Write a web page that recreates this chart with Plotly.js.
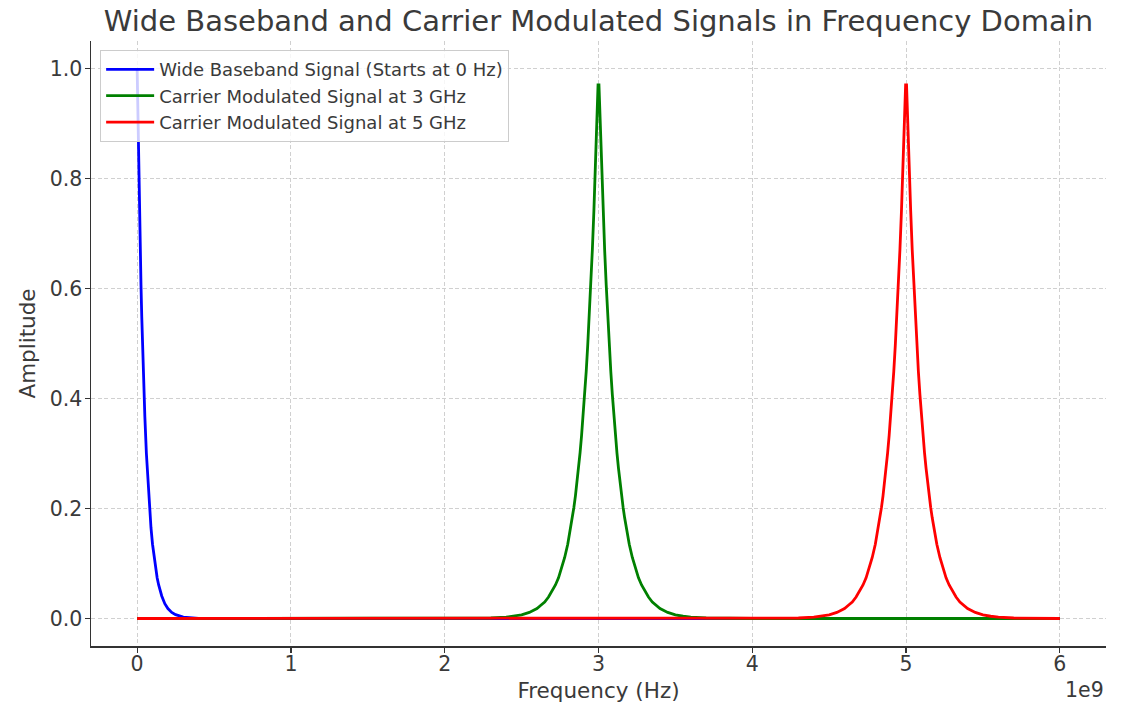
<!DOCTYPE html>
<html>
<head>
<meta charset="utf-8">
<script src="https://cdn.plot.ly/plotly-3.0.1.min.js"></script>
<style>html,body{margin:0;padding:0;background:#fff;}#chart{width:1127px;height:703px;}</style>
</head>
<body>
<div id="chart"></div>
<script>
// Values (frequency in GHz, amplitude unitless)
const seriesNames = [
  "Wide Baseband Signal (Starts at 0 Hz)",
  "Carrier Modulated Signal at 3 GHz",
  "Carrier Modulated Signal at 5 GHz"
];

const blueFreqGHz = [0, 0.005, 0.01, 0.015, 0.02, 0.025, 0.03, 0.035, 0.04, 0.045, 0.05, 0.06, 0.07, 0.08, 0.09, 0.10, 0.11, 0.12, 0.13, 0.14, 0.16, 0.18, 0.2, 0.225, 0.25, 0.3, 0.35, 0.4, 0.5, 6.0];
const blueAmp     = [1.0, 0.905, 0.819, 0.741, 0.670, 0.607, 0.549, 0.497, 0.449, 0.407, 0.368, 0.301, 0.247, 0.202, 0.165, 0.135, 0.111, 0.091, 0.074, 0.061, 0.041, 0.027, 0.018, 0.011, 0.007, 0.0025, 0.0009, 0.0003, 0, 0];

const greenFreqGHz = [0, 2.0, 2.2, 2.3, 2.4, 2.45, 2.5, 2.55, 2.6, 2.625, 2.65, 2.675, 2.7, 2.72, 2.74, 2.76, 2.78, 2.8, 2.81, 2.82, 2.83, 2.84, 2.85, 2.86, 2.87, 2.88, 2.89, 2.9, 2.91, 2.92, 2.93, 2.94, 2.95, 2.96, 2.97, 2.98, 2.99, 2.997, 3.003, 3.01, 3.02, 3.03, 3.04, 3.05, 3.06, 3.07, 3.08, 3.09, 3.1, 3.11, 3.12, 3.13, 3.14, 3.15, 3.16, 3.17, 3.18, 3.19, 3.2, 3.22, 3.24, 3.26, 3.28, 3.3, 3.325, 3.35, 3.375, 3.4, 3.45, 3.5, 3.55, 3.6, 3.7, 3.8, 4.0, 6.0];
const greenAmp     = [0, 0, 0.0003, 0.0009, 0.0025, 0.0041, 0.0067, 0.011, 0.018, 0.024, 0.030, 0.039, 0.050, 0.061, 0.074, 0.091, 0.111, 0.135, 0.150, 0.165, 0.183, 0.202, 0.223, 0.247, 0.273, 0.301, 0.333, 0.368, 0.407, 0.449, 0.497, 0.549, 0.607, 0.670, 0.741, 0.819, 0.905, 0.970, 0.970, 0.905, 0.819, 0.741, 0.670, 0.607, 0.549, 0.497, 0.449, 0.407, 0.368, 0.333, 0.301, 0.273, 0.247, 0.223, 0.202, 0.183, 0.165, 0.150, 0.135, 0.111, 0.091, 0.074, 0.061, 0.050, 0.039, 0.030, 0.024, 0.018, 0.011, 0.0067, 0.0041, 0.0025, 0.0009, 0.0003, 0, 0];

const redFreqGHz = [0, 4.0, 4.2, 4.3, 4.4, 4.45, 4.5, 4.55, 4.6, 4.625, 4.65, 4.675, 4.7, 4.72, 4.74, 4.76, 4.78, 4.8, 4.81, 4.82, 4.83, 4.84, 4.85, 4.86, 4.87, 4.88, 4.89, 4.9, 4.91, 4.92, 4.93, 4.94, 4.95, 4.96, 4.97, 4.98, 4.99, 4.997, 5.003, 5.01, 5.02, 5.03, 5.04, 5.05, 5.06, 5.07, 5.08, 5.09, 5.1, 5.11, 5.12, 5.13, 5.14, 5.15, 5.16, 5.17, 5.18, 5.19, 5.2, 5.22, 5.24, 5.26, 5.28, 5.3, 5.325, 5.35, 5.375, 5.4, 5.45, 5.5, 5.55, 5.6, 5.7, 5.8, 6.0];
const redAmp     = [0, 0, 0.0003, 0.0009, 0.0025, 0.0041, 0.0067, 0.011, 0.018, 0.024, 0.030, 0.039, 0.050, 0.061, 0.074, 0.091, 0.111, 0.135, 0.150, 0.165, 0.183, 0.202, 0.223, 0.247, 0.273, 0.301, 0.333, 0.368, 0.407, 0.449, 0.497, 0.549, 0.607, 0.670, 0.741, 0.819, 0.905, 0.970, 0.970, 0.905, 0.819, 0.741, 0.670, 0.607, 0.549, 0.497, 0.449, 0.407, 0.368, 0.333, 0.301, 0.273, 0.247, 0.223, 0.202, 0.183, 0.165, 0.150, 0.135, 0.111, 0.091, 0.074, 0.061, 0.050, 0.039, 0.030, 0.024, 0.018, 0.011, 0.0067, 0.0041, 0.0025, 0.0009, 0.0003, 0];

const xTickGHz = [0, 1, 2, 3, 4, 5, 6];
const yTicks = [0, 0.2, 0.4, 0.6, 0.8, 1.0];

const GHZ = 1e9;
const toHz = a => a.map(v => v * GHZ);

const FONT = "DejaVu Sans, sans-serif";
const TXT = "#3a3a3a";
const LW = 2.8;

const traces = [
  {x: toHz(blueFreqGHz), y: blueAmp, name: seriesNames[0], legendgroup: "a", mode: "lines", line: {color: "#0000ff", width: LW}},
  {x: toHz(greenFreqGHz), y: greenAmp, name: seriesNames[1], legendgroup: "b", mode: "lines", line: {color: "#008000", width: LW}},
  {x: toHz(redFreqGHz), y: redAmp, name: seriesNames[2], legendgroup: "c", mode: "lines", line: {color: "#ff0000", width: LW}}
];

const layout = {
  width: 1127, height: 703,
  margin: {l: 91, r: 21, t: 41, b: 57},
  paper_bgcolor: "#ffffff", plot_bgcolor: "#ffffff",
  font: {family: FONT, color: TXT, size: 20},
  title: {text: "Wide Baseband and Carrier Modulated Signals in Frequency Domain",
          font: {family: FONT, size: 29, color: TXT}, x: 0.531, xanchor: "center", y: 0.97, yanchor: "middle"},
  xaxis: {
    range: [-0.3 * GHZ, 6.3 * GHZ],
    tickvals: toHz(xTickGHz), ticktext: xTickGHz.map(String),
    showgrid: true, gridcolor: "#d0d0d0", griddash: "4px,2.5px", gridwidth: 1,
    zeroline: false, showline: true, linecolor: "#333333", linewidth: 1.5, mirror: false,
    ticks: "outside", ticklen: 5, tickcolor: "#333333", tickwidth: 1.2,
    ticklabelstandoff: -6,
    tickfont: {family: FONT, size: 20.5, color: TXT},
    title: {text: "Frequency (Hz)", font: {family: FONT, size: 21.5, color: TXT}, standoff: 10},
    automargin: false
  },
  yaxis: {
    range: [-0.05, 1.05],
    tickvals: yTicks, ticktext: yTicks.map(v => v.toFixed(1)),
    showgrid: true, gridcolor: "#d0d0d0", griddash: "4px,2.5px", gridwidth: 1,
    zeroline: false, showline: true, linecolor: "#333333", linewidth: 1.5, mirror: false,
    ticks: "outside", ticklen: 5, tickcolor: "#333333", tickwidth: 1.2,
    ticklabelstandoff: -2,
    tickfont: {family: FONT, size: 20.5, color: TXT},
    title: {text: "Amplitude", font: {family: FONT, size: 21.5, color: TXT}, standoff: 8},
    automargin: false
  },
  showlegend: true,
  legend: {
    x: 0.009, y: 0.985, xanchor: "left", yanchor: "top",
    bgcolor: "rgba(255,255,255,0.8)", bordercolor: "#cccccc", borderwidth: 1,
    font: {family: FONT, size: 18, color: TXT},
    itemwidth: 48, tracegroupgap: 3, traceorder: "normal"
  },
  annotations: [{
    text: "1e9", xref: "paper", yref: "paper", x: 1, y: -0.073,
    xanchor: "right", yanchor: "middle", showarrow: false,
    font: {family: FONT, size: 20.5, color: TXT}
  }],
  hovermode: false
};

Plotly.newPlot("chart", traces, layout, {displayModeBar: false, staticPlot: true});
</script>
</body>
</html>
